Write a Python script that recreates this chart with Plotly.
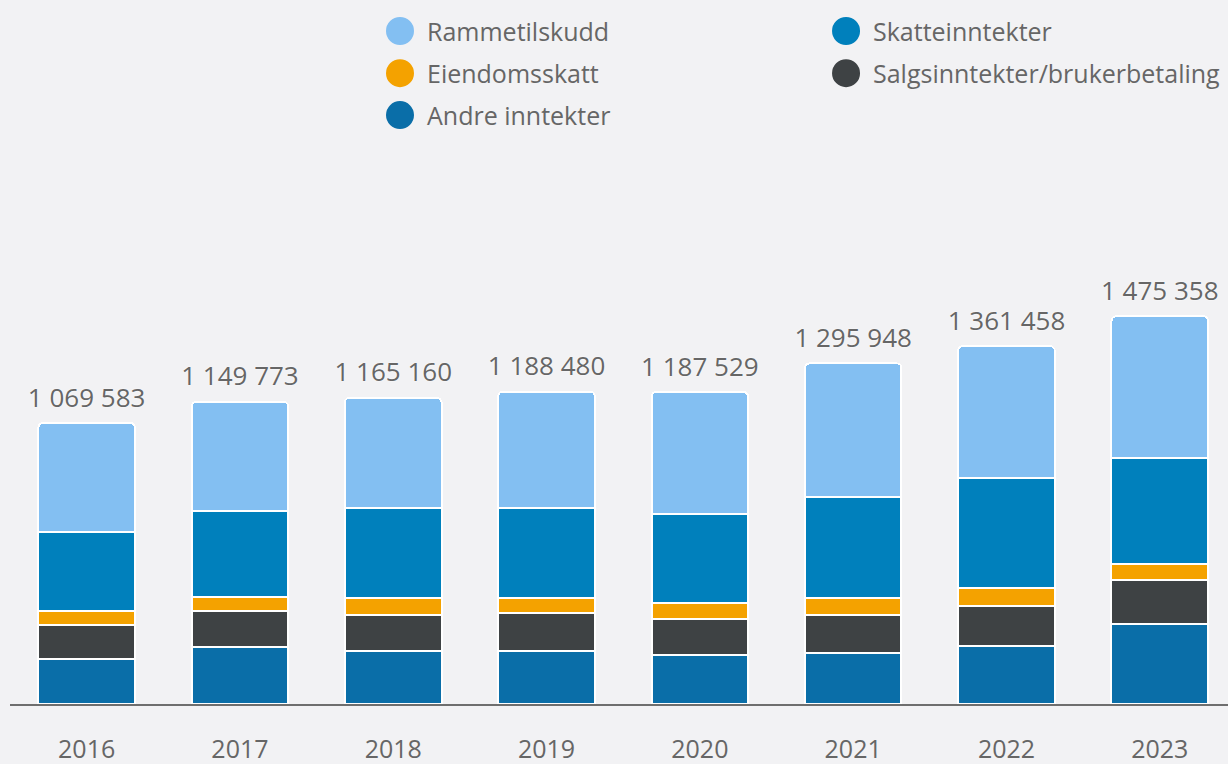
import plotly.graph_objects as go

years = ["2016", "2017", "2018", "2019", "2020", "2021", "2022", "2023"]

andre = [172000, 218000, 203000, 200000, 188000, 194000, 221000, 303000]
salg = [128000, 134000, 137000, 146000, 136000, 146000, 152000, 169000]
eiendom = [52000, 56000, 62000, 56000, 62000, 62000, 67000, 61000]
skatt = [304000, 327000, 342000, 342000, 335000, 387000, 419000, 402000]
ramme = [413583, 414773, 421160, 444480, 466529, 506948, 502458, 540358]

series_names = ["Andre inntekter", "Salgsinntekter/brukerbetaling", "Eiendomsskatt",
                "Skatteinntekter", "Rammetilskudd"]
series_values = [andre, salg, eiendom, skatt, ramme]
colors = ["#0A6EA8", "#3E4244", "#F4A200", "#0080BC", "#83BFF2"]

totals = [sum(v) for v in zip(*series_values)]
total_labels = [f"{t:,}".replace(",", " ") for t in totals]

FONT = "'Open Sans', Lato, sans-serif"
TXT = "#666666"

fig = go.Figure()
for name, vals, col in zip(series_names, series_values, colors):
    fig.add_trace(go.Bar(
        x=years, y=vals, name=name,
        marker=dict(color=col, line=dict(color="#ffffff", width=2)),
        hoverinfo="x+y+name", showlegend=False,
    ))

fig.add_trace(go.Scatter(
    x=years, y=totals, mode="markers+text", text=total_labels,
    textposition="top center",
    marker=dict(size=14, opacity=0),
    textfont=dict(family=FONT, size=26, color=TXT, shadow="0px 0px 2px #ffffff"),
    showlegend=False, hoverinfo="skip",
))

# Manual legend (circle + label), order as in the reference
legend_order = ["Rammetilskudd", "Skatteinntekter", "Eiendomsskatt",
                "Salgsinntekter/brukerbetaling", "Andre inntekter"]
col_x = [0.3202, 0.6864]
row_y = [0.956, 0.896, 0.8365]
shapes = []
annotations = []
for i, name in enumerate(legend_order):
    cx = col_x[i % 2]
    cy = row_y[i // 2]
    c = colors[series_names.index(name)]
    shapes.append(dict(
        type="circle", xref="paper", yref="paper",
        xsizemode="pixel", ysizemode="pixel", xanchor=cx, yanchor=cy,
        x0=-14, x1=14, y0=-14, y1=14,
        fillcolor=c, line=dict(width=0),
    ))
    annotations.append(dict(
        x=cx, y=cy, xref="paper", yref="paper", xshift=25,
        text=name, showarrow=False, xanchor="left", yanchor="middle",
        font=dict(family=FONT, size=25, color=TXT),
    ))

fig.update_layout(
    width=1228, height=764,
    barmode="stack", bargap=0.37, barcornerradius=5,
    paper_bgcolor="#F2F2F4", plot_bgcolor="#F2F2F4",
    margin=dict(l=10, r=0, t=0, b=60, autoexpand=False),
    showlegend=False,
    font=dict(family=FONT, size=25, color=TXT),
    xaxis=dict(
        range=[-0.5, 7.445], showgrid=False, zeroline=False,
        showline=True, linecolor="#6E6E6E", linewidth=2,
        ticks="", tickfont=dict(family=FONT, size=25, color=TXT),
        ticklabelstandoff=22, fixedrange=True,
    ),
    yaxis=dict(range=[0, 2678000], visible=False, showgrid=False, zeroline=False,
               fixedrange=True),
    shapes=shapes, annotations=annotations,
)

fig.write_html("out.html", config={"displayModeBar": False},
               post_script="document.body.style.margin='0';")
